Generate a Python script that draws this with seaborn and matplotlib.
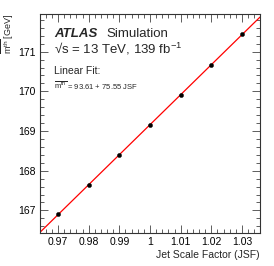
import numpy as np
import pandas as pd
import matplotlib
matplotlib.use("Agg")
import matplotlib.pyplot as plt
import seaborn as sns
from matplotlib.ticker import MultipleLocator

# JSF scan points and fitted top mass
jsf = [0.97, 0.98, 0.99, 1.00, 1.01, 1.02, 1.03]
mtop = [166.90, 167.65, 168.40, 169.16, 169.92, 170.67, 171.45]
fit_intercept = 93.61
fit_slope = 75.55

sns.set_style("ticks")
plt.rcParams['font.family'] = ['Liberation Sans', 'DejaVu Sans']
plt.rcParams['mathtext.fontset'] = 'custom'
plt.rcParams['mathtext.rm'] = 'Liberation Sans'
plt.rcParams['mathtext.it'] = 'Liberation Sans:italic'
plt.rcParams['mathtext.bf'] = 'Liberation Sans:bold'

df = pd.DataFrame({'JSF': jsf, 'mtop': mtop})

fig = plt.figure(figsize=(2.74, 2.66), dpi=100)
ax = fig.add_axes([40 / 274, 1 - 233 / 266, 220 / 274, 219 / 266])

xlim = (0.9641, 1.0359)
ylim = (166.43, 171.95)

line_x = np.array(xlim)
line_df = pd.DataFrame({'JSF': line_x, 'fit': fit_intercept + fit_slope * line_x})
sns.lineplot(data=line_df, x='JSF', y='fit', color='red', linewidth=0.9, ax=ax)
sns.scatterplot(data=df, x='JSF', y='mtop', color='black', s=9, edgecolor='black',
                linewidth=0.3, zorder=5, ax=ax)

ax.set_xlim(*xlim)
ax.set_ylim(*ylim)
ax.set_xticks(jsf)
ax.set_xticklabels(['0.97', '0.98', '0.99', '1', '1.01', '1.02', '1.03'])
ax.xaxis.set_minor_locator(MultipleLocator(0.002))
ax.yaxis.set_major_locator(MultipleLocator(1))
ax.yaxis.set_minor_locator(MultipleLocator(0.2))

for s in ax.spines.values():
    s.set_linewidth(0.8)
    s.set_color('#333333')
ax.tick_params(which='both', direction='in', top=True, right=True, width=0.6,
               labelsize=7.5, pad=3, color='#444444', labelcolor='black')
ax.tick_params(which='major', length=6)
ax.tick_params(which='minor', length=3)

ax.set_xlabel('Jet Scale Factor (JSF)', fontsize=7.5, loc='right', labelpad=2)
ax.set_ylabel(r'$\overline{\mathrm{m}^{\mathrm{th}}}$ [GeV]', fontsize=6.5, loc='top')
ax.yaxis.set_label_coords(-0.11, 1.0)

ax.text(0.065, 0.893, 'ATLAS', transform=ax.transAxes, fontsize=9.5,
        fontweight='bold', fontstyle='italic')
ax.text(0.30, 0.893, 'Simulation', transform=ax.transAxes, fontsize=9.5)
ax.text(0.065, 0.82, '\u221as = 13 TeV, 139 fb$^{\\mathrm{-1}}$',
        transform=ax.transAxes, fontsize=9.5)
ax.text(0.065, 0.728, 'Linear Fit:', transform=ax.transAxes, fontsize=7.5)
ax.text(0.065, 0.655, r'$\overline{\mathrm{m}^{\mathrm{th}}}$ = 93.61 + 75.55 JSF',
        transform=ax.transAxes, fontsize=5.5)

fig.savefig('out.png', dpi=100)
